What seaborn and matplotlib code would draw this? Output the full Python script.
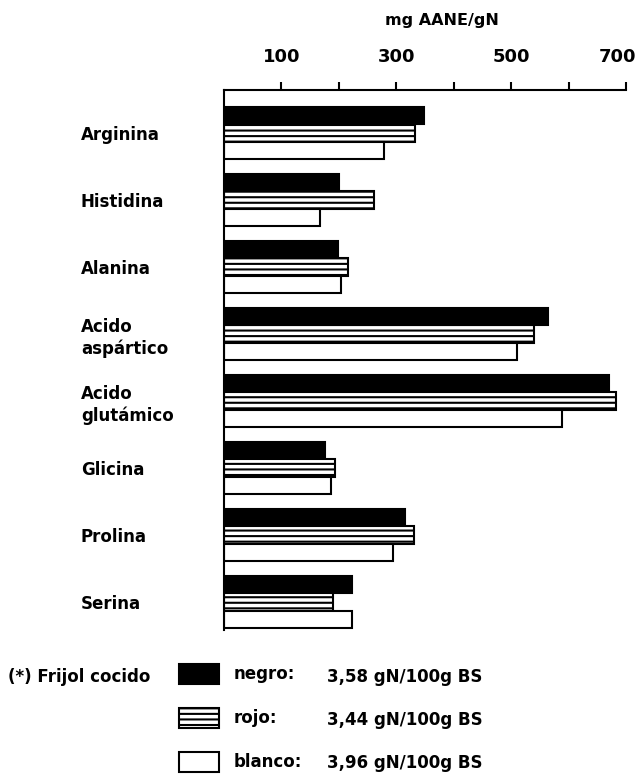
import matplotlib
matplotlib.use('Agg')
import matplotlib.pyplot as plt
from matplotlib.patches import Patch
from matplotlib.transforms import ScaledTranslation
import pandas as pd
import seaborn as sns

# valores (mg AANE/gN)
aminoacidos = ['Arginina', 'Histidina', 'Alanina', 'Acido\naspártico',
               'Acido\nglutámico', 'Glicina', 'Prolina', 'Serina']
negro = [348, 200, 198, 565, 670, 175, 315, 223]
rojo = [333, 261, 216, 540, 683, 193, 331, 190]
blanco = [279, 168, 203, 511, 588, 186, 294, 223]

frijoles = ['negro', 'rojo', 'blanco']
contenido_n = ['3,58 gN/100g BS', '3,44 gN/100g BS', '3,96 gN/100g BS']
colores = ['black', 'white', 'white']
tramas = ['', '---', '']

xticks = [100, 200, 300, 400, 500, 600, 700]
xtick_labels = ['100', '', '300', '', '500', '', '700']

sns.set_style('white')
plt.rcParams['font.family'] = ['DejaVu Sans']
plt.rcParams['font.weight'] = 'bold'
plt.rcParams['text.color'] = 'black'
plt.rcParams['xtick.color'] = 'black'
plt.rcParams['ytick.color'] = 'black'
plt.rcParams['hatch.linewidth'] = 1.5
plt.rcParams['hatch.color'] = 'black'

df = pd.DataFrame({
    'aminoacido': aminoacidos * 3,
    'valor': negro + rojo + blanco,
    'frijol': [f for f in frijoles for _ in aminoacidos],
})

fig = plt.figure(figsize=(6.41, 7.79), dpi=100)
ax = fig.add_axes([224 / 641, 1 - 630 / 779, 402 / 641, 540 / 779])

sns.barplot(data=df, x='valor', y='aminoacido', hue='frijol', orient='h',
            hue_order=frijoles, palette=colores, width=0.78, saturation=1,
            edgecolor='black', linewidth=1.5, legend=False, ax=ax)

for cont, trama in zip(ax.containers, tramas):
    for bar in cont:
        bar.set_hatch(trama)

ax.set_xlim(0, 700)
ax.set_ylim(7.42, -0.64)
ax.xaxis.tick_top()
ax.set_xticks(xticks)
ax.set_xticklabels(xtick_labels, fontsize=13, fontweight='bold')
ax.tick_params(axis='x', direction='out', length=6, width=1.5, pad=11, top=True, bottom=False)
ax.tick_params(axis='y', length=0, pad=103)
# el 700 queda un poco a la izquierda de su marca
lab700 = ax.get_xticklabels()[-1]
lab700.set_transform(lab700.get_transform() + ScaledTranslation(-8 / 100, 0, fig.dpi_scale_trans))
for lab in ax.get_yticklabels():
    lab.set_horizontalalignment('left')
    lab.set_fontsize(12)
    lab.set_fontweight('bold')
    lab.set_linespacing(1.3)
ax.set_xlabel('')
ax.set_ylabel('')
for s in ['right', 'bottom']:
    ax.spines[s].set_visible(False)
for s in ['top', 'left']:
    ax.spines[s].set_linewidth(1.5)
    ax.spines[s].set_color('black')

fig.text(442 / 641, 1 - 20 / 779, 'mg AANE/gN', ha='center', va='center',
         fontsize=11.5, fontweight='bold')

# leyenda
handles = [Patch(facecolor=c, edgecolor='black', hatch=t, linewidth=1.5)
           for c, t in zip(colores, tramas)]
fig.legend(handles, [f + ':' for f in frijoles], loc='upper left',
           bbox_to_anchor=(179 / 641, 1 - 664 / 779), frameon=False,
           borderpad=0, borderaxespad=0, handlelength=2.4, handleheight=1.45,
           handletextpad=0.85, labelspacing=1.45,
           prop={'size': 12, 'weight': 'bold'})
fig.text(8 / 641, 1 - 677 / 779, '(*) Frijol cocido', ha='left', va='center',
         fontsize=12, fontweight='bold')
for i, txt in enumerate(contenido_n):
    fig.text(327 / 641, 1 - (677 + 43 * i) / 779, txt, ha='left', va='center',
             fontsize=12, fontweight='bold')

fig.savefig('out.png', dpi=100)
